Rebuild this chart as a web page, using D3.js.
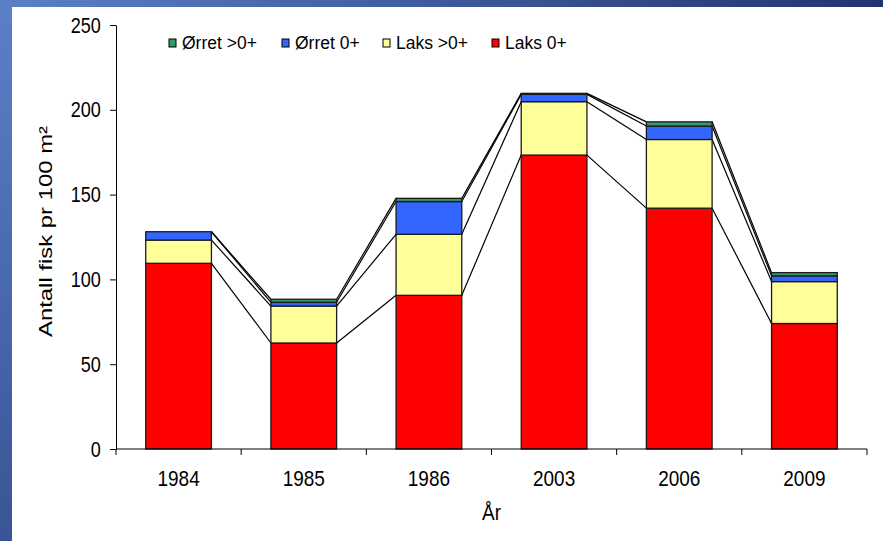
<!DOCTYPE html>
<html lang="no">
<head>
<meta charset="utf-8">
<title>Antall fisk pr 100 m²</title>
<script src="https://cdn.jsdelivr.net/npm/d3@7"></script>
<style>
    body { margin: 0; background: #fff; }
    svg text { font-family: "Liberation Sans", Arial, sans-serif; fill: #000; }
    .seg { stroke: #1a1a1a; stroke-width: 1.3px; }
    .link { stroke: #000; stroke-width: 1.2px; fill: none; }
    .axis path, .axis line { stroke: #000; stroke-width: 1px; }
</style>
</head>
<body>
<script>
    var width = 883,
        height = 541;

    // data
    var years = ["1984", "1985", "1986", "2003", "2006", "2009"];
    var laks0 = [109.5, 62.5, 90.6, 173.3, 142.0, 74.0];
    var laksOver0 = [13.7, 21.8, 36.0, 31.5, 40.5, 24.7];
    var orret0 = [4.9, 2.2, 19.3, 4.3, 7.9, 3.4];
    var orretOver0 = [0.0, 1.8, 1.9, 0.6, 2.5, 1.9];
    var yTicks = [0, 50, 100, 150, 200, 250];

    // stacking order bottom -> top
    var series = [
        { name: "Laks 0+", values: laks0, color: "#ff0000" },
        { name: "Laks >0+", values: laksOver0, color: "#ffff99" },
        { name: "Ørret 0+", values: orret0, color: "#3366ff" },
        { name: "Ørret >0+", values: orretOver0, color: "#339966" }
    ];

    var margin = { left: 116, right: 16, top: 25, bottom: 92 };

    var svg = d3.select("body").append("svg")
        .attr("width", width)
        .attr("height", height);

    // slide background frame
    var defs = svg.append("defs");
    var gradTop = defs.append("linearGradient").attr("id", "gTop");
    gradTop.append("stop").attr("offset", "0%").attr("stop-color", "#5b80c8");
    gradTop.append("stop").attr("offset", "100%").attr("stop-color", "#22346f");
    var gradLeft = defs.append("linearGradient").attr("id", "gLeft")
        .attr("x1", 0).attr("y1", 0).attr("x2", 0).attr("y2", 1);
    gradLeft.append("stop").attr("offset", "0%").attr("stop-color", "#5b80c8");
    gradLeft.append("stop").attr("offset", "100%").attr("stop-color", "#3a5496");

    svg.append("rect").attr("x", 0).attr("y", 0).attr("width", width).attr("height", 7)
        .attr("fill", "url(#gTop)");
    svg.append("rect").attr("x", 0).attr("y", 0).attr("width", 12).attr("height", height)
        .attr("fill", "url(#gLeft)");

    var x = d3.scaleBand()
        .domain(years)
        .range([margin.left, width - margin.right]);

    var y = d3.scaleLinear()
        .domain([0, 250])
        .range([height - margin.bottom, margin.top]);

    var barW = x.bandwidth() * 0.525;

    // cumulative stacks
    var stack = d3.stack()
        .keys(d3.range(series.length))
        .value(function(d, k) { return series[k].values[d]; });
    var stacked = stack(d3.range(years.length));

    // connecting lines between bar tops for every series
    stacked.forEach(function(layer) {
        for (var i = 0; i < years.length - 1; i++) {
            svg.append("line")
                .attr("class", "link")
                .attr("x1", x(years[i]) + x.bandwidth() / 2 + barW / 2)
                .attr("y1", y(layer[i][1]))
                .attr("x2", x(years[i + 1]) + x.bandwidth() / 2 - barW / 2)
                .attr("y2", y(layer[i + 1][1]));
        }
    });

    // bars
    stacked.forEach(function(layer, k) {
        svg.append("g").selectAll("rect")
            .data(layer)
            .enter().append("rect")
            .attr("class", "seg")
            .attr("fill", series[k].color)
            .attr("x", function(d, i) { return x(years[i]) + x.bandwidth() / 2 - barW / 2; })
            .attr("y", function(d) { return y(d[1]); })
            .attr("width", barW)
            .attr("height", function(d) { return Math.max(0, y(d[0]) - y(d[1])); })
            .style("display", function(d) { return d[1] - d[0] > 0 ? null : "none"; });
    });

    // y axis
    var yAxis = svg.append("g")
        .attr("class", "axis")
        .attr("transform", "translate(" + margin.left + ",0)")
        .call(d3.axisLeft(y).tickValues(yTicks).tickSize(6).tickSizeOuter(0).tickPadding(10));
    yAxis.selectAll(".tick text")
        .style("font-size", "19px")
        .attr("dy", null)
        .attr("transform", "translate(0,7) scale(0.95,1.12)");

    // x axis, ticks between categories
    var xAxisG = svg.append("g")
        .attr("class", "axis")
        .attr("transform", "translate(0," + y(0) + ")");
    xAxisG.append("line")
        .attr("x1", margin.left).attr("x2", width - margin.right)
        .attr("y1", 0).attr("y2", 0);
    xAxisG.selectAll(".tk")
        .data(years.concat(["end"]))
        .enter().append("line")
        .attr("x1", function(d, i) { return i < years.length ? x(d) : x.range()[1]; })
        .attr("x2", function(d, i) { return i < years.length ? x(d) : x.range()[1]; })
        .attr("y1", 0).attr("y2", 6);
    xAxisG.selectAll("text")
        .data(years)
        .enter().append("text")
        .attr("transform", function(d) {
            return "translate(" + (x(d) + x.bandwidth() / 2) + ",37) scale(1,1.12)";
        })
        .attr("text-anchor", "middle")
        .style("font-size", "19px")
        .text(function(d) { return d; });

    // axis titles
    svg.append("text")
        .attr("transform", "translate(" + ((x.range()[0] + x.range()[1]) / 2) + ",520) scale(1,1.12)")
        .attr("text-anchor", "middle")
        .style("font-size", "19px")
        .text("År");

    svg.append("text")
        .attr("transform", "translate(52,232) rotate(-90)")
        .attr("x", -105)
        .attr("textLength", 211)
        .attr("lengthAdjust", "spacingAndGlyphs")
        .style("font-size", "19px")
        .text("Antall fisk pr 100 m²");

    // legend (reverse order, top series first)
    var legendX = [169, 282, 383, 492];
    var legend = svg.append("g").selectAll("g")
        .data(series.slice().reverse())
        .enter().append("g")
        .attr("transform", function(d, i) { return "translate(" + legendX[i] + ",39)"; });
    legend.append("rect")
        .attr("width", 7).attr("height", 8)
        .attr("fill", function(d) { return d.color; })
        .attr("stroke", "#000").attr("stroke-width", 1);
    legend.append("text")
        .attr("x", 13).attr("y", 10)
        .style("font-size", "17.5px")
        .text(function(d) { return d.name; });
</script>
</body>
</html>
